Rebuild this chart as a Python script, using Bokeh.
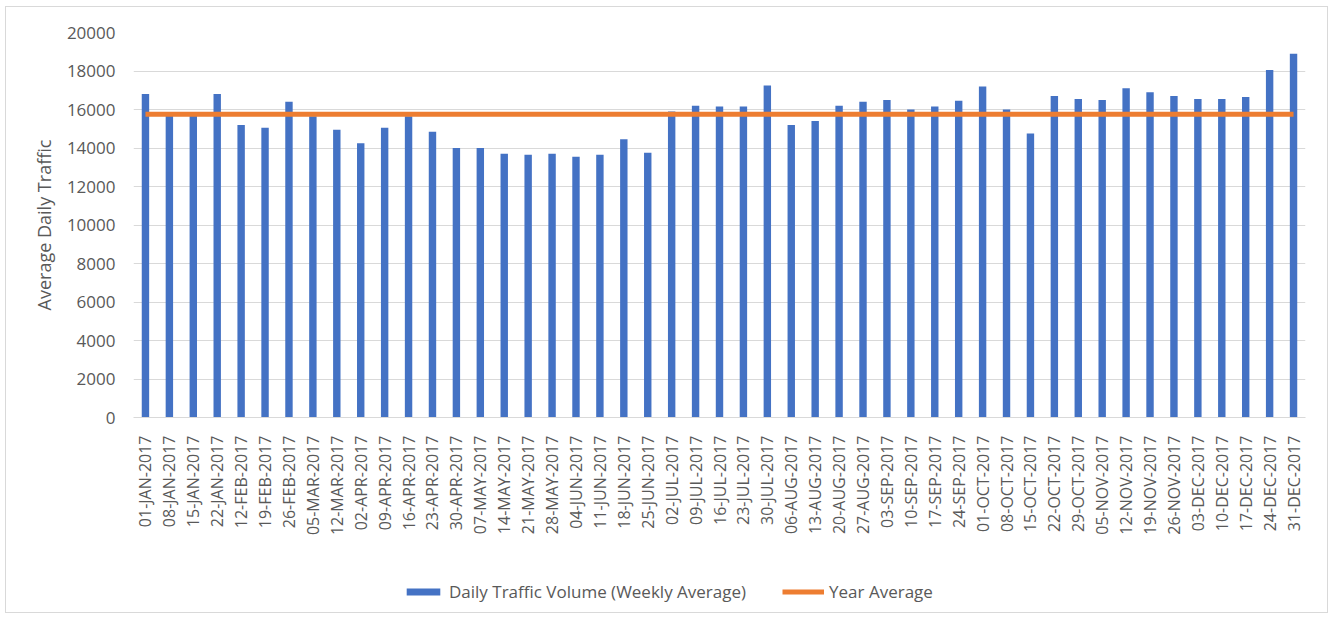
import math
from bokeh.plotting import figure
from bokeh.layouts import column
from bokeh.models import Legend, LegendItem, FixedTicker, Range1d, FactorRange
from bokeh.embed import file_html
from bokeh.resources import INLINE

weeks = [
    "01-JAN-2017", "08-JAN-2017", "15-JAN-2017", "22-JAN-2017", "12-FEB-2017",
    "19-FEB-2017", "26-FEB-2017", "05-MAR-2017", "12-MAR-2017", "02-APR-2017",
    "09-APR-2017", "16-APR-2017", "23-APR-2017", "30-APR-2017", "07-MAY-2017",
    "14-MAY-2017", "21-MAY-2017", "28-MAY-2017", "04-JUN-2017", "11-JUN-2017",
    "18-JUN-2017", "25-JUN-2017", "02-JUL-2017", "09-JUL-2017", "16-JUL-2017",
    "23-JUL-2017", "30-JUL-2017", "06-AUG-2017", "13-AUG-2017", "20-AUG-2017",
    "27-AUG-2017", "03-SEP-2017", "10-SEP-2017", "17-SEP-2017", "24-SEP-2017",
    "01-OCT-2017", "08-OCT-2017", "15-OCT-2017", "22-OCT-2017", "29-OCT-2017",
    "05-NOV-2017", "12-NOV-2017", "19-NOV-2017", "26-NOV-2017", "03-DEC-2017",
    "10-DEC-2017", "17-DEC-2017", "24-DEC-2017", "31-DEC-2017",
]

traffic = [
    16800, 15700, 15700, 16800, 15200,
    15050, 16400, 15650, 14950, 14250,
    15050, 15650, 14850, 14000, 14000,
    13700, 13650, 13700, 13550, 13650,
    14450, 13750, 15900, 16200, 16150,
    16150, 17250, 15200, 15400, 16200,
    16400, 16500, 16000, 16150, 16450,
    17200, 16000, 14750, 16700, 16550,
    16500, 17100, 16900, 16700, 16550,
    16550, 16650, 18050, 18900,
]

year_average = 15750
y_ticks = [0, 2000, 4000, 6000, 8000, 10000, 12000, 14000, 16000, 18000, 20000]

FONT = "Open Sans"
TEXT_COLOR = "#595959"
GRID_COLOR = "#d9d9d9"
BAR_COLOR = "#4472C4"
LINE_COLOR = "#ED7D31"

p = figure(
    x_range=FactorRange(*weeks),
    y_range=Range1d(0, 20000),
    width=1321, height=545,
    output_backend="svg", toolbar_location=None,
    min_border_left=127, min_border_right=22,
    min_border_top=25, min_border_bottom=135,
)
p.outline_line_color = None
p.background_fill_color = "white"
p.border_fill_color = "white"

p.vbar(x=weeks, top=traffic, width=0.31, fill_color=BAR_COLOR, line_color=None)
p.line(x=weeks, y=[year_average] * len(weeks), line_color=LINE_COLOR, line_width=5)

p.xgrid.grid_line_color = None
p.ygrid.grid_line_color = GRID_COLOR
p.ygrid.grid_line_width = 1

p.yaxis.ticker = FixedTicker(ticks=y_ticks)
p.yaxis.axis_line_color = None
p.yaxis.major_tick_line_color = None
p.yaxis.minor_tick_line_color = None
p.yaxis.major_label_text_font = FONT
p.yaxis.major_label_text_font_size = "17px"
p.yaxis.major_label_text_color = TEXT_COLOR
p.yaxis.major_label_standoff = 12
p.yaxis.axis_label = "Average Daily Traffic"
p.yaxis.axis_label_text_font = FONT
p.yaxis.axis_label_text_font_size = "18px"
p.yaxis.axis_label_text_font_style = "normal"
p.yaxis.axis_label_text_color = TEXT_COLOR
p.yaxis.axis_label_standoff = 8

p.xaxis.axis_line_color = GRID_COLOR
p.xaxis.major_tick_line_color = None
p.xaxis.minor_tick_line_color = None
p.xaxis.major_label_orientation = math.pi / 2
p.xaxis.major_label_text_font = FONT
p.xaxis.major_label_text_font_size = "16px"
p.xaxis.major_label_text_color = TEXT_COLOR
p.xaxis.major_label_standoff = 12

# Legend strip below the chart; key glyphs use the same styles as the series
leg = figure(
    width=1321, height=60,
    x_range=Range1d(0, 1), y_range=Range1d(0, 1),
    output_backend="svg", toolbar_location=None,
    min_border=0,
)
leg.axis.visible = False
leg.grid.grid_line_color = None
leg.outline_line_color = None
leg.background_fill_color = "white"
leg.border_fill_color = "white"
key_x = [-10, -9]
key_y = [-10, -10]
bar_key = leg.vbar(x=key_x, top=key_y, width=0.31, fill_color=BAR_COLOR, line_color=None)
line_key = leg.line(x=key_x, y=key_y, line_color=LINE_COLOR, line_width=5)

legend = Legend(
    items=[
        LegendItem(label="Daily Traffic Volume (Weekly Average)", renderers=[bar_key]),
        LegendItem(label="Year Average", renderers=[line_key]),
    ],
    orientation="horizontal",
    location=(269, 9),
    padding=0, margin=0, spacing=36,
    glyph_width=42, glyph_height=9,
    label_standoff=5,
    label_text_font=FONT,
    label_text_font_size="17px",
    label_text_color=TEXT_COLOR,
    border_line_color=None,
    background_fill_alpha=0,
)
leg.add_layout(legend)

layout = column(p, leg, spacing=0)
layout.styles = {"border": "1px solid #d9d9d9", "margin-left": "5px", "margin-top": "6px"}

open("out.html", "w").write(file_html(layout, INLINE))
